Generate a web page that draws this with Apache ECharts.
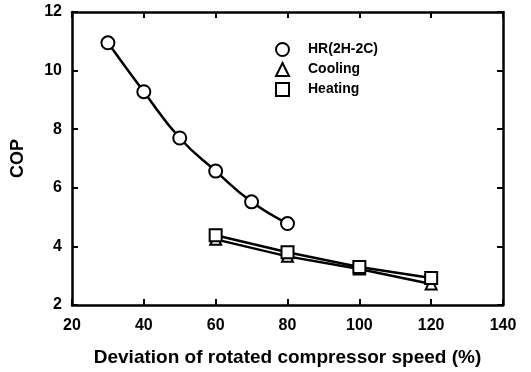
<!DOCTYPE html>
<html><head><meta charset="utf-8">
<script src="https://cdn.jsdelivr.net/npm/echarts@6/dist/echarts.min.js"></script>
<style>html,body{margin:0;padding:0;background:#fff}#c{width:531px;height:372px}</style>
</head><body><div id="c"></div>
<script>
const hrX = [30, 40, 50, 60, 70, 80];
const hrY = [10.95, 9.28, 7.7, 6.57, 5.52, 4.78];
const coolX = [60, 80, 100, 120];
const coolY = [4.24, 3.66, 3.23, 2.72];
const heatX = [60, 80, 100, 120];
const heatY = [4.38, 3.8, 3.3, 2.92];
const seriesNames = ['HR(2H-2C)', 'Cooling', 'Heating'];
const xTitle = 'Deviation of rotated compressor speed (%)';
const yTitle = 'COP';

const font = 'Liberation Sans, Arial, sans-serif';
const pair = (xs, ys) => xs.map((x, i) => [x, ys[i]]);
const axisCommon = {
  axisLine: {show: true, lineStyle: {color: '#000', width: 2.5}},
  axisTick: {show: true, inside: true, length: 6, lineStyle: {color: '#000', width: 2}},
  splitLine: {show: false}
};
const mk = (name, data, sym, smooth) => ({
  name, type: 'line', data, smooth: smooth ? 0.5 : false,
  symbol: sym, symbolSize: sym === 'circle' ? 13 : (sym === 'rect' ? 12 : 11),
  lineStyle: {color: '#000', width: 2.5},
  itemStyle: {color: '#fff', borderColor: '#000', borderWidth: 2},
  z: sym === 'rect' ? 3 : 2
});
const chart = echarts.init(document.getElementById('c'));
chart.setOption({
  animation: false,
  backgroundColor: '#fff',
  grid: {left: 72, right: 28, top: 12, bottom: 65},
  legend: {
    orient: 'vertical', left: 270, top: 37, itemGap: 5, itemWidth: 13, itemHeight: 13,
    textStyle: {fontFamily: font, fontWeight: 'bold', fontSize: 14, color: '#000', padding: [0, 0, 0, 14]},
    data: [
      {name: seriesNames[0], icon: 'circle'},
      {name: seriesNames[1], icon: 'triangle'},
      {name: seriesNames[2], icon: 'rect'}
    ],
    itemStyle: {color: '#fff', borderColor: '#000', borderWidth: 2},
    lineStyle: {width: 0}
  },
  xAxis: [
    Object.assign({type: 'value', min: 20, max: 140, interval: 20, position: 'bottom',
      name: xTitle, nameLocation: 'middle', nameGap: 43,
      nameTextStyle: {fontFamily: font, fontWeight: 'bold', fontSize: 19, color: '#000'},
      axisLabel: {fontFamily: font, fontWeight: 'bold', fontSize: 16, color: '#000', margin: 13}}, axisCommon),
    Object.assign({type: 'value', min: 20, max: 140, interval: 20, position: 'top',
      axisLabel: {show: false}}, axisCommon)
  ],
  yAxis: [
    Object.assign({type: 'value', min: 2, max: 12, interval: 2, position: 'left',
      name: yTitle, nameLocation: 'middle', nameGap: 45, nameRotate: 90,
      nameTextStyle: {fontFamily: font, fontWeight: 'bold', fontSize: 18, color: '#000'},
      axisLabel: {fontFamily: font, fontWeight: 'bold', fontSize: 16, color: '#000', margin: 10}}, axisCommon),
    Object.assign({type: 'value', min: 2, max: 12, interval: 2, position: 'right',
      axisLabel: {show: false}}, axisCommon)
  ],
  series: [
    mk(seriesNames[0], pair(hrX, hrY), 'circle', true),
    mk(seriesNames[1], pair(coolX, coolY), 'triangle', false),
    mk(seriesNames[2], pair(heatX, heatY), 'rect', false)
  ]
});
</script></body></html>
